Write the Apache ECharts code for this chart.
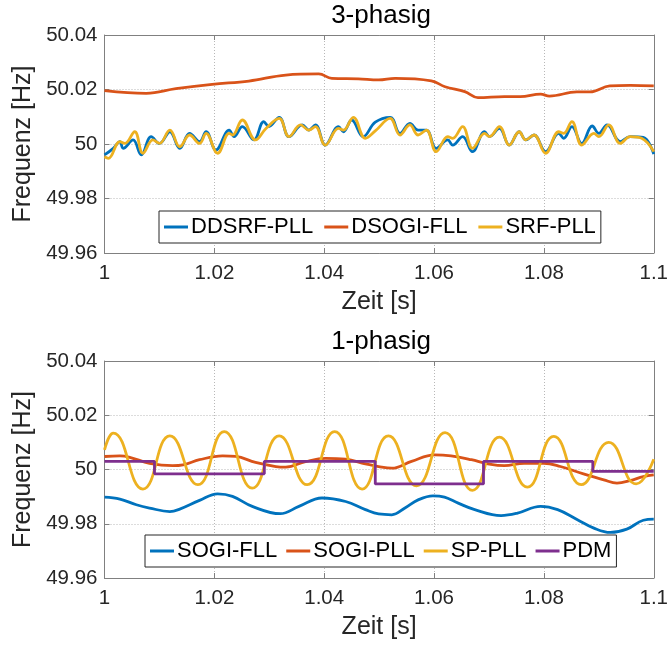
<!DOCTYPE html>
<html>
<head>
<meta charset="utf-8">
<script src="https://cdn.jsdelivr.net/npm/echarts@6.0.0/dist/echarts.min.js"></script>
<style>
html, body { margin: 0; padding: 0; background: #fff; }
#chart { width: 671px; height: 648px; }
</style>
</head>
<body>
<div id="chart"></div>
<script>
// 3-phasig
var ddsrfT = [1.0,1.0016,1.0028,1.0034,1.0052,1.0067,1.0085,1.0100,1.0119,1.0137,1.0155,1.0173,1.0185,1.0203,1.0227,1.0236,1.0251,1.0272,1.0290,1.0299,1.0318,1.0336,1.0360,1.0372,1.0384,1.0402,1.0426,1.0435,1.0450,1.0471,1.0493,1.0520,1.0538,1.0556,1.0571,1.0586,1.0604,1.0625,1.0634,1.0652,1.0670,1.0692,1.0701,1.0719,1.0737,1.0755,1.0767,1.0782,1.0803,1.0827,1.0836,1.0851,1.0869,1.0888,1.0900,1.0915,1.0939,1.0957,1.0981,1.1];
var ddsrfF = [49.9960,49.9984,50.0009,49.9984,50.0015,49.9960,50.0027,50.0002,50.0045,49.9984,50.0039,50.0009,50.0045,49.9978,50.0051,50.0027,50.0064,50.0015,50.0082,50.0064,50.0098,50.0027,50.0070,50.0051,50.0070,49.9996,50.0064,50.0045,50.0088,50.0027,50.0080,50.0098,50.0039,50.0076,50.0051,50.0051,49.9984,50.0015,49.9996,50.0027,49.9972,50.0045,50.0027,50.0057,49.9996,50.0045,50.0015,50.0033,49.9972,50.0039,50.0021,50.0064,50.0002,50.0066,50.0039,50.0070,50.0009,50.0027,50.0024,49.9963];

var dsogiT = [1.0,1.0076,1.013,1.0196,1.0263,1.033,1.039,1.0414,1.0462,1.0499,1.0529,1.0595,1.062,1.0656,1.068,1.0728,1.0757,1.0794,1.081,1.086,1.0884,1.092,1.0957,1.1];
var dsogiF = [50.0196,50.0186,50.0203,50.0219,50.0231,50.0253,50.0257,50.0241,50.0239,50.0235,50.0241,50.0232,50.0210,50.0192,50.0170,50.0174,50.0174,50.0183,50.0176,50.0191,50.0191,50.0213,50.0215,50.0213];

var srfT = [1.0,1.0007,1.0028,1.0037,1.0055,1.0070,1.0088,1.0100,1.0119,1.0137,1.0155,1.0173,1.0185,1.0206,1.0227,1.0233,1.0251,1.0275,1.0294,1.0318,1.0336,1.0357,1.0372,1.0384,1.0402,1.0426,1.0435,1.0453,1.0475,1.0493,1.0520,1.0538,1.0556,1.0571,1.0586,1.0604,1.0625,1.0634,1.0652,1.0670,1.0692,1.0701,1.0719,1.0737,1.0755,1.0767,1.0782,1.0803,1.0827,1.0836,1.0851,1.0869,1.0891,1.0900,1.0918,1.0939,1.0957,1.0978,1.1];
var srfF = [49.9953,49.9947,50.0009,50.0002,50.0045,49.9966,50.0015,50.0002,50.0051,49.9990,50.0033,50.0002,50.0039,49.9966,50.0039,50.0033,50.0088,50.0015,50.0057,50.0094,50.0027,50.0070,50.0051,50.0064,49.9996,50.0057,50.0051,50.0098,50.0021,50.0048,50.0094,50.0033,50.0070,50.0033,50.0051,49.9972,50.0027,50.0021,50.0064,49.9984,50.0039,50.0027,50.0064,49.9996,50.0045,50.0015,50.0033,49.9966,50.0045,50.0039,50.0082,49.9996,50.0039,50.0027,50.0070,50.0002,50.0027,50.0021,49.9972];

// 1-phasig
var sogiFllT = [1.0,1.0028,1.0058,1.0082,1.0119,1.0137,1.0173,1.0206,1.0233,1.0269,1.032,1.0354,1.0396,1.0439,1.0475,1.0499,1.0523,1.0547,1.0571,1.0598,1.0619,1.0644,1.0674,1.0722,1.0752,1.0794,1.0825,1.0861,1.0891,1.0921,1.0951,1.0981,1.1];
var sogiFllF = [49.9898,49.9891,49.9870,49.9858,49.9845,49.9854,49.9886,49.9910,49.9901,49.9864,49.9837,49.9864,49.9895,49.9882,49.9852,49.9836,49.9833,49.9858,49.9888,49.9903,49.9898,49.9876,49.9852,49.9830,49.9839,49.9864,49.9852,49.9815,49.9784,49.9768,49.9780,49.9813,49.9817];

var sogiPllT = [1.0,1.0028,1.0046,1.0082,1.0124,1.0143,1.0173,1.0215,1.0239,1.0275,1.0312,1.033,1.0366,1.0402,1.0439,1.0475,1.0499,1.0523,1.0559,1.0601,1.0631,1.0668,1.0698,1.0728,1.0764,1.08,1.083,1.0872,1.0909,1.0933,1.0957,1.0981,1.1];
var sogiPllF = [50.0048,50.0050,50.0045,50.0023,50.0014,50.0017,50.0036,50.0050,50.0048,50.0026,50.0011,50.0009,50.0029,50.0041,50.0038,50.0021,50.0011,50.0005,50.0030,50.0054,50.0050,50.0036,50.0021,50.0014,50.0023,50.0023,50.0011,49.9984,49.9962,49.9950,49.9959,49.9974,49.9980];

var spPllT = [1.0,1.0016,1.007,1.0119,1.017,1.0218,1.0269,1.0318,1.0369,1.0419,1.0469,1.0517,1.0568,1.062,1.067,1.0719,1.077,1.0818,1.0868,1.0918,1.0968,1.1];
var spPllF = [50.0072,50.0134,49.9928,50.0124,49.9944,50.0140,49.9931,50.0124,49.9944,50.0140,49.9928,50.0124,49.9940,50.0136,49.9923,50.0119,49.9935,50.0122,49.9944,50.0100,49.9947,50.0038];

var pdmT = [1.0,1.0091,1.0291,1.0493,1.069,1.0889,1.1];
var pdmF = [50.0030,49.9984,50.0030,49.9947,50.0030,49.9993,49.9993];

var font = 'Liberation Sans, Arial, sans-serif';
var colors = ['#0072BD', '#D95319', '#EDB120', '#7E2F8E'];

function zip(t, f) {
    return t.map(function (x, i) { return [x, f[i]]; });
}
function fmt(v) {
    return String(+v.toFixed(2));
}

var myChart = echarts.init(document.getElementById('chart'));

var gridTops = [35, 361];
var xAxes = [], yAxes = [];
// untere x-Achse / linke y-Achse mit Beschriftung
gridTops.forEach(function (top, i) {
    xAxes.push({
        gridIndex: i, type: 'value', min: 1, max: 1.1, interval: 0.02,
        name: 'Zeit [s]', nameLocation: 'middle', nameGap: 37,
        nameTextStyle: { color: '#262626', fontSize: 25, fontFamily: font },
        axisLine: { show: true, lineStyle: { color: '#808080' } },
        axisTick: { show: true, inside: true, length: 5, lineStyle: { color: '#808080' } },
        axisLabel: { color: '#262626', fontSize: 20.5, fontFamily: font, margin: 10, formatter: fmt },
        splitLine: { show: true, lineStyle: { color: '#b8b8b8', type: [1, 2] } }
    });
    yAxes.push({
        gridIndex: i, type: 'value', min: 49.96, max: 50.04, interval: 0.02,
        name: 'Frequenz [Hz]', nameLocation: 'middle', nameGap: 61,
        nameTextStyle: { color: '#262626', fontSize: 25, fontFamily: font },
        axisLine: { show: true, lineStyle: { color: '#808080' } },
        axisTick: { show: true, inside: true, length: 5, lineStyle: { color: '#808080' } },
        axisLabel: { color: '#262626', fontSize: 20.5, fontFamily: font, margin: 7, formatter: fmt },
        splitLine: { show: true, lineStyle: { color: '#b8b8b8', type: [1, 2] } }
    });
});
// obere / rechte Achsen nur fuer den Rahmen
gridTops.forEach(function (top, i) {
    xAxes.push({
        gridIndex: i, type: 'value', position: 'top', min: 1, max: 1.1, interval: 0.02,
        axisLine: { show: true, onZero: false, lineStyle: { color: '#808080' } },
        axisTick: { show: true, inside: true, length: 5, lineStyle: { color: '#808080' } },
        axisLabel: { show: false }, splitLine: { show: false }
    });
    yAxes.push({
        gridIndex: i, type: 'value', position: 'right', min: 49.96, max: 50.04, interval: 0.02,
        axisLine: { show: true, onZero: false, lineStyle: { color: '#808080' } },
        axisTick: { show: true, inside: true, length: 5, lineStyle: { color: '#808080' } },
        axisLabel: { show: false }, splitLine: { show: false }
    });
});

function line(name, t, f, idx, color, extra) {
    var s = {
        name: name, type: 'line', xAxisIndex: idx, yAxisIndex: idx,
        data: zip(t, f), symbol: 'none', smooth: 0.4,
        lineStyle: { color: color, width: 2.8 }, itemStyle: { color: color }
    };
    for (var k in extra) s[k] = extra[k];
    return s;
}

var legendBase = {
    orient: 'horizontal', icon: 'rect', itemWidth: 24, itemHeight: 3, itemGap: 11,
    borderColor: '#262626', borderWidth: 1, backgroundColor: '#fff', padding: [5, 5],
    textStyle: { color: '#000', fontSize: 22, fontFamily: font, padding: [0, 0, 0, -2] }
};

var option = {
    animation: false,
    backgroundColor: '#fff',
    graphic: [
        { type: 'text', x: 381, y: 16, style: { text: '3-phasig', font: '26px ' + font, fill: '#000', textAlign: 'center', textVerticalAlign: 'middle' } },
        { type: 'text', x: 381, y: 342, style: { text: '1-phasig', font: '26px ' + font, fill: '#000', textAlign: 'center', textVerticalAlign: 'middle' } }
    ],
    grid: [
        { left: 104.5, top: 35, width: 552, height: 218 },
        { left: 104.5, top: 361, width: 552, height: 217 }
    ],
    legend: [
        Object.assign({}, legendBase, { left: 159, top: 211, data: ['DDSRF-PLL', 'DSOGI-FLL', 'SRF-PLL'] }),
        Object.assign({}, legendBase, { left: 145, top: 535, itemGap: 9, data: ['SOGI-FLL', 'SOGI-PLL', 'SP-PLL', 'PDM'] })
    ],
    xAxis: xAxes,
    yAxis: yAxes,
    series: [
        line('DDSRF-PLL', ddsrfT, ddsrfF, 0, colors[0]),
        line('DSOGI-FLL', dsogiT, dsogiF, 0, colors[1]),
        line('SRF-PLL', srfT, srfF, 0, colors[2]),
        line('SOGI-FLL', sogiFllT, sogiFllF, 1, colors[0]),
        line('SOGI-PLL', sogiPllT, sogiPllF, 1, colors[1]),
        line('SP-PLL', spPllT, spPllF, 1, colors[2], { smooth: 0.5 }),
        line('PDM', pdmT, pdmF, 1, colors[3], { smooth: false, step: 'end' })
    ]
};

myChart.setOption(option);
</script>
</body>
</html>
